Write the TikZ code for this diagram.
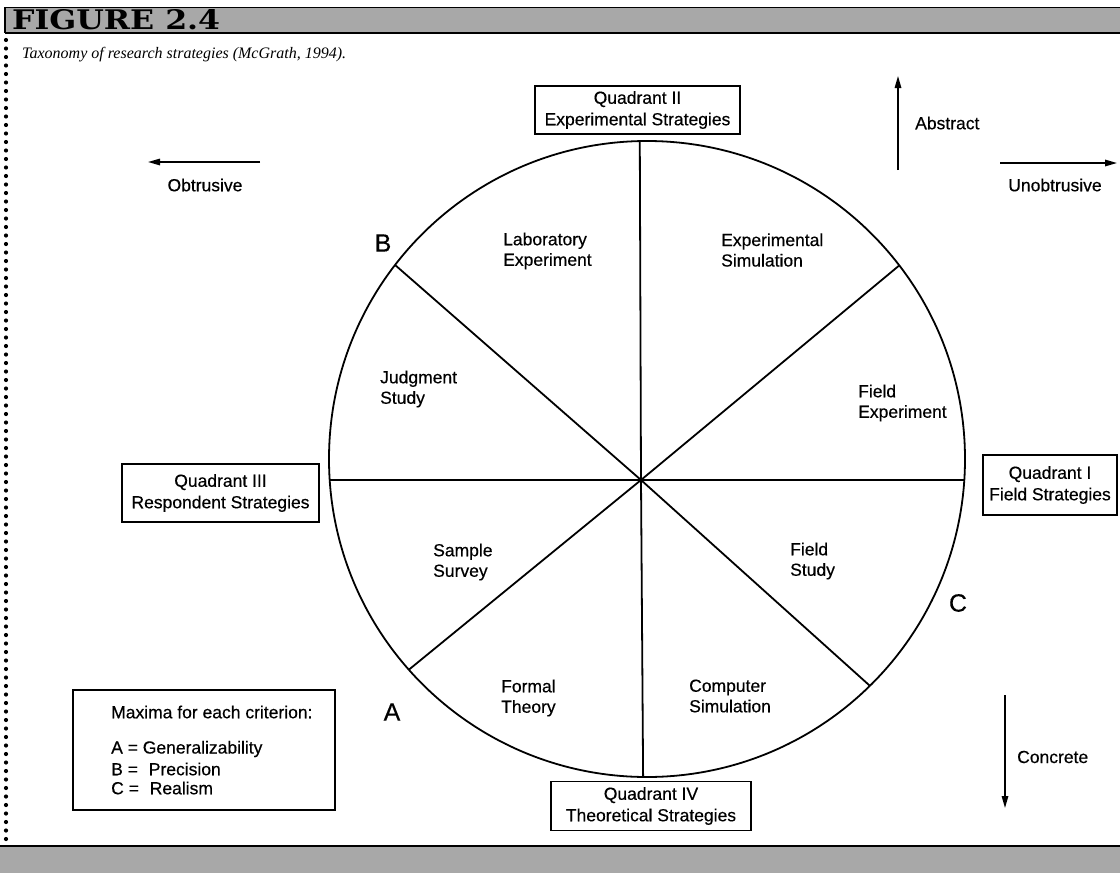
\documentclass[tikz,border=0pt]{standalone}
\usepackage{fontspec}
\usepackage{graphicx}
\setmainfont{Liberation Sans}[FakeBold=0.4]
\newfontfamily\capfont{Liberation Serif}
\newfontfamily\figfont{DejaVu Serif}
\usetikzlibrary{arrows.meta,calc}
\begin{document}
\begin{tikzpicture}[x=1pt,y=-1pt,
  lab/.style={font=\fontsize{17.5}{20.5}\selectfont, inner sep=0pt, align=left},
  qbox/.style={draw, line width=1.4pt, font=\fontsize{17.5}{21.5}\selectfont, align=center, inner sep=0pt},
  spoke/.style={line width=1.8pt},
  dirarrow/.style={line width=1.5pt, -{Triangle[length=12pt,width=6.5pt]}},
  bigletter/.style={font=\fontsize{25}{25}\selectfont, inner sep=0pt},
  band/.style={fill=black!34}]
\useasboundingbox (0,0) rectangle (1120,873);
\fill[white] (0,0) rectangle (1120,873);
% header band
\fill[band] (5,7) rectangle (1120,33);
\draw[line width=0.8pt] (5,7) -- (1120,7);
\draw[line width=2pt] (5,33) -- (1120,33);
\draw[line width=2pt] (5,7) -- (5,33);
\node[anchor=south west, inner sep=0pt] (fig) at (12,30) {\resizebox{208pt}{20pt}{\figfont\bfseries FIGURE 2.4}};
% bottom band
\fill[band] (0,846) rectangle (1120,873);
\draw[line width=1.6pt] (0,846) -- (1120,846);
% dotted left border
\draw[line width=4.2pt, line cap=round, dash pattern=on 0pt off 8.5pt] (6,40) -- (6,842);
% caption
\node[anchor=west, inner sep=0pt, font={\capfont\itshape\fontsize{16}{18}\selectfont}] (cap) at (22,55) {Taxonomy of research strategies (McGrath, 1994).};
% circle and spokes
\coordinate (C) at (647,459);
\coordinate (H) at (641,480);
\draw[spoke] (C) circle[radius=318pt];
\foreach \a/\n in {91.3/t, 142.4/ul, 183.8/l, 221.5/ll, 269.3/b, 314.5/lr, 356.2/r, 37.5/ur} {
  \coordinate (\n) at ($(C)+(\a:318pt)$);
  \draw[spoke] (H) -- (\n);
}
% sector labels
\node[lab, anchor=west] (labexp) at (503,251) {Laboratory\\Experiment};
\node[lab, anchor=west] (expsim) at (721,250) {Experimental\\Simulation};
\node[lab, anchor=west] (judg) at (380,389) {Judgment\\Study};
\node[lab, anchor=west] (fexp) at (858,403) {Field\\Experiment};
\node[lab, anchor=west] (survey) at (433,562) {Sample\\Survey};
\node[lab, anchor=west] (fstudy) at (790,561) {Field\\Study};
\node[lab, anchor=west] (formal) at (501,698) {Formal\\Theory};
\node[lab, anchor=west] (compsim) at (689,696) {Computer\\Simulation};
% letters
\node[bigletter] (B) at (383,243) {B};
\node[bigletter] (A) at (392,712) {A};
\node[bigletter] (Cl) at (958,603) {C};
% quadrant boxes
\node[qbox, minimum width=205pt, minimum height=48pt] (q2) at (637.5,110) {Quadrant II\\Experimental Strategies};
\node[qbox, minimum width=200pt, minimum height=49pt] (q4) at (651,806) {Quadrant IV\\Theoretical Strategies};
\node[qbox, minimum width=197pt, minimum height=58pt] (q3) at (220.5,493) {Quadrant III\\Respondent Strategies};
\node[qbox, minimum width=134pt, minimum height=60pt] (q1) at (1050,485) {Quadrant I\\Field Strategies};
% direction arrows
\coordinate (obs) at (260,162); \coordinate (obe) at (148,162);
\draw[dirarrow] (obs) -- (obe);
\node[lab] (obtr) at (205,185) {Obtrusive};
\coordinate (uns) at (1000,163); \coordinate (une) at (1117,163);
\draw[dirarrow] (uns) -- (une);
\node[lab] (unobtr) at (1055,185) {Unobtrusive};
\coordinate (abs) at (898,170); \coordinate (abe) at (898,76);
\draw[dirarrow] (abs) -- (abe);
\node[lab, anchor=west] (abstr) at (915,123) {Abstract};
\coordinate (cos) at (1005,695); \coordinate (coe) at (1005,808);
\draw[dirarrow] (cos) -- (coe);
\node[lab, anchor=west] (concr) at (1017,757) {Concrete};
% maxima box
\node[draw, line width=1.3pt, minimum width=262pt, minimum height=120pt, inner sep=0pt] (maxbox) at (204,750) {};
\node[lab, anchor=west] (maxt) at (111,712) {Maxima for each criterion:};
\node[lab, anchor=west] (ma) at (111,749) {A = Generalizability};
\node[lab, anchor=west] (mb) at (111,769) {B =\hspace{6pt} Precision};
\node[lab, anchor=west] (mc) at (111,788) {C =\hspace{6pt} Realism};
\end{tikzpicture}
\end{document}
